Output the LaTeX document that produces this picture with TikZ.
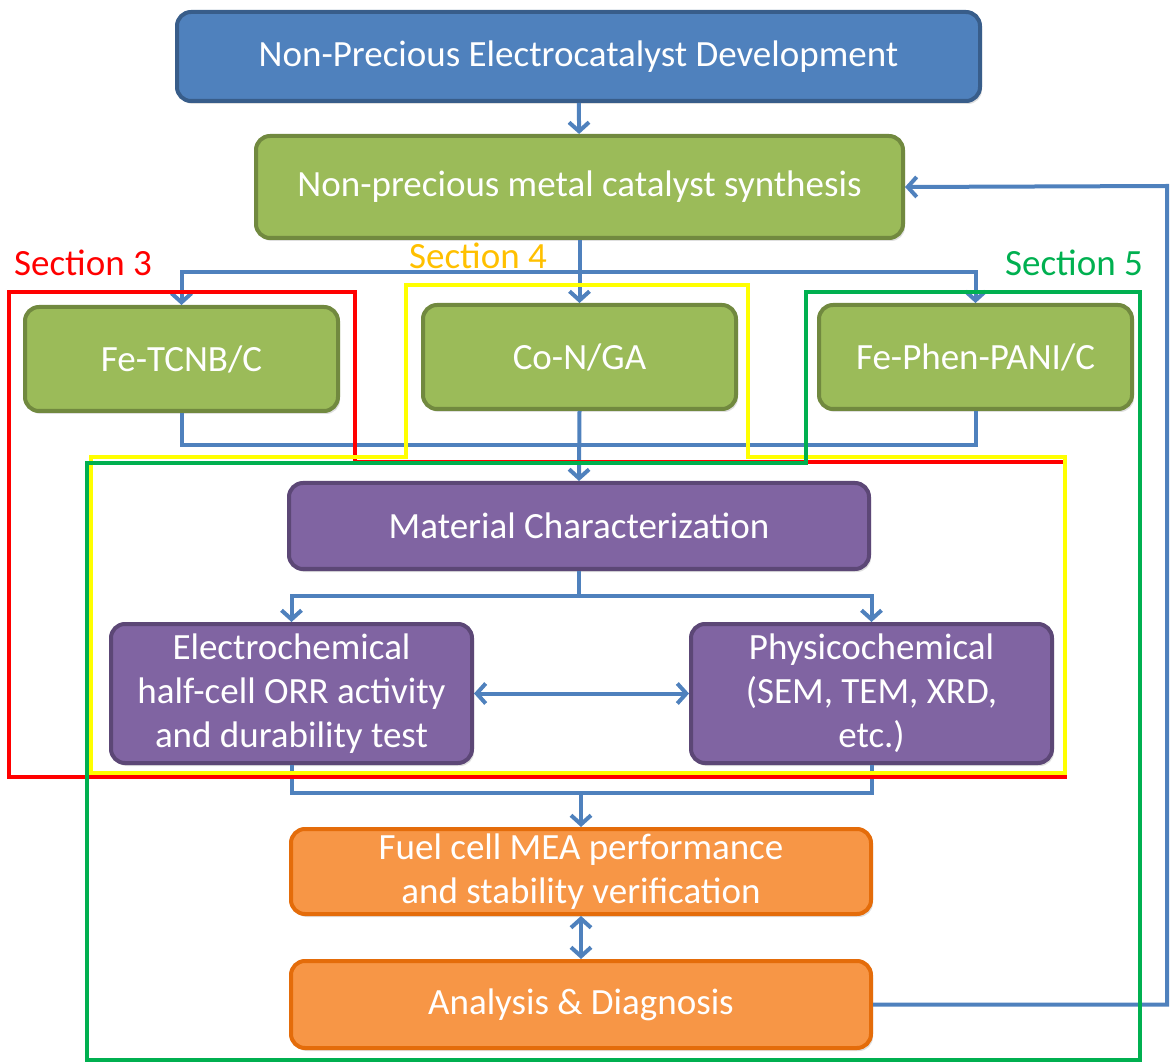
\documentclass[tikz,border=0pt]{standalone}
\usepackage{fontspec}
\setmainfont{Carlito}
\usetikzlibrary{arrows.meta,shadows}

\definecolor{hdrfill}{HTML}{4F81BD}
\definecolor{hdrline}{HTML}{385D8A}
\definecolor{synfill}{HTML}{9BBB59}
\definecolor{synline}{HTML}{71893F}
\definecolor{chrfill}{HTML}{8064A2}
\definecolor{chrline}{HTML}{5C4776}
\definecolor{meafill}{HTML}{F79646}
\definecolor{mealine}{HTML}{E46C0A}
\definecolor{flowblue}{HTML}{4F81BD}
\definecolor{secred}{HTML}{FF0000}
\definecolor{secyellow}{HTML}{FFFF00}
\definecolor{secgold}{HTML}{FFC000}
\definecolor{secgreen}{HTML}{00B050}

\tikzset{
  box/.style={rounded corners=7pt, line width=2pt, text=white, align=center,
    inner sep=2pt, font=\fontsize{18.5}{22}\selectfont,
    drop shadow={shadow xshift=1pt, shadow yshift=-1.5pt, opacity=0.25}},
  headbox/.style={box, fill=hdrfill, draw=hdrline},
  synbox/.style={box, fill=synfill, draw=synline},
  charbox/.style={box, fill=chrfill, draw=chrline},
  meabox/.style={box, fill=meafill, draw=mealine},
  wire/.style={draw=flowblue, line width=2pt},
  flow/.style={wire, -{Straight Barb[length=4.5pt,width=10pt]}},
  twoway/.style={wire, {Straight Barb[length=4.5pt,width=10pt]}-{Straight Barb[length=4.5pt,width=10pt]}},
  frame/.style={line width=2pt},
  seclabel/.style={inner sep=0pt, font=\fontsize{18.5}{22}\selectfont},
}

\begin{document}
\begin{tikzpicture}[x=0.5pt, y=-0.5pt]
  \useasboundingbox (0,0) rectangle (1172,1063);

  % boxes
  \node[headbox, minimum width=401.5pt, minimum height=44.5pt] (top) at (578.5,56.5)
    {Non-Precious Electrocatalyst Development};
  \node[synbox, minimum width=323.5pt, minimum height=51pt] (synth) at (579.5,187)
    {Non-precious metal catalyst synthesis};

  \node[synbox, minimum width=156.5pt, minimum height=52pt] (fetcnb) at (181.5,359) {Fe-TCNB/C};
  \node[synbox, minimum width=156.5pt, minimum height=52pt] (conga) at (579.5,357) {Co-N/GA};
  \node[synbox, minimum width=156.5pt, minimum height=52pt] (fephen) at (975.5,357) {Fe-Phen-PANI/C};

  \node[charbox, minimum width=290pt, minimum height=43pt] (matchar) at (579,526)
    {Material Characterization};
  \node[charbox, minimum width=180.5pt, minimum height=69.5pt] (electro) at (291.5,693.5)
    {Electrochemical\\half-cell ORR activity\\and durability test};
  \node[charbox, minimum width=180.5pt, minimum height=69.5pt] (physico) at (871.5,693.5)
    {Physicochemical\\(SEM, TEM, XRD,\\etc.)};

  \node[meabox, minimum width=290pt, minimum height=42.5pt] (fuel) at (581,871.5)
    {Fuel cell MEA performance\\and stability verification};
  \node[meabox, minimum width=290pt, minimum height=43.5pt] (analysis) at (581,1004.5)
    {Analysis \& Diagnosis};

  % junction points
  \coordinate (split) at (579.5,272);
  \coordinate (gather) at (579.5,445);
  \coordinate (fork) at (579,596);
  \coordinate (merge) at (581,793);
  \coordinate (back) at (1167,186);

  % connectors
  \draw[flow] (top) -- (synth);
  \draw[wire] (synth.south) -- (split);
  \draw[flow] (split) -| (fetcnb.north);
  \draw[flow] (split) -- (conga.north);
  \draw[flow] (split) -| (fephen.north);

  \draw[wire] (fetcnb.south) |- (gather);
  \draw[wire] (fephen.south) |- (gather);
  \draw[flow] (conga.south) -- (matchar.north);

  \draw[wire] (matchar.south) -- (fork);
  \draw[flow] (fork) -| (electro.north);
  \draw[flow] (fork) -| (physico.north);
  \draw[twoway] (electro) -- (physico);

  \draw[wire] (electro.south) |- (merge);
  \draw[wire] (physico.south) |- (merge);
  \draw[flow] (merge) -- (fuel.north);
  \draw[twoway] (fuel) -- (analysis);
  \draw[flow] (analysis.east) -| (back) -- (synth.east);

  % section frames
  \draw[frame, secred] (9,292) -- (355,292) -- (355,462) -- (1065,462)
    -- (1065,777) -- (9,777) -- cycle;
  \draw[frame, secyellow] (406,285) -- (748,285) -- (748,457) -- (1065,457)
    -- (1065,773) -- (91,773) -- (91,457) -- (406,457) -- cycle;
  \draw[frame, secgreen] (806,292) -- (1140,292) -- (1140,1060) -- (87,1060)
    -- (87,463) -- (806,463) -- cycle;

  \node[seclabel, text=secred] (sec3) at (83,263) {Section 3};
  \node[seclabel, text=secgold] (sec4) at (478,256) {Section 4};
  \node[seclabel, text=secgreen] (sec5) at (1074,263) {Section 5};
\end{tikzpicture}
\end{document}
